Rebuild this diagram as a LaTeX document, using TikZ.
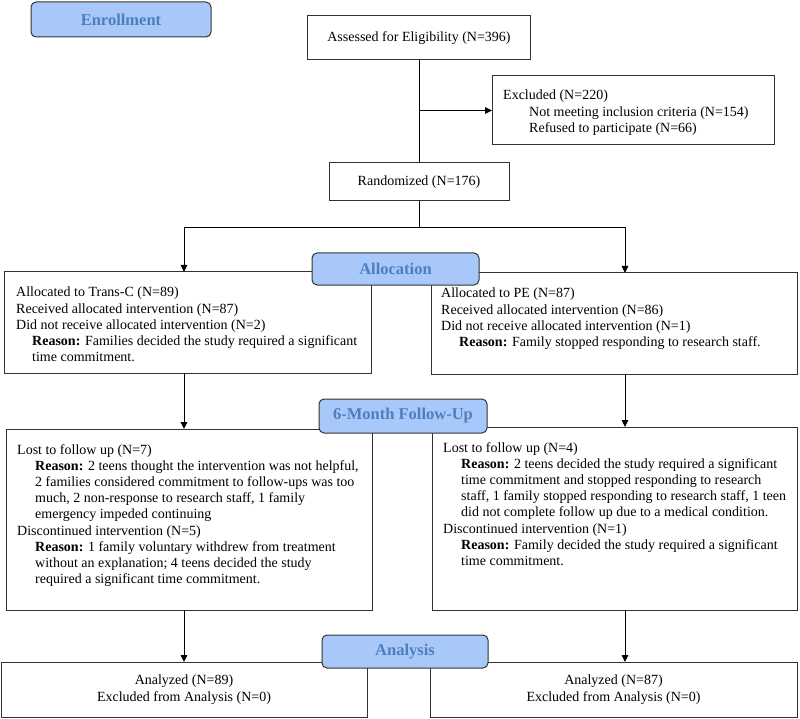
\documentclass[tikz,border=0pt]{standalone}
\usepackage{fontspec}
\setmainfont{Liberation Serif}
\usetikzlibrary{arrows.meta,calc}
\definecolor{linec}{RGB}{50,50,50}
\definecolor{hdrfill}{RGB}{168,200,250}
\definecolor{hdrtext}{RGB}{79,126,190}
\newcommand{\myind}{\hspace*{18pt}}
\tikzset{
  box/.style={draw=linec,line width=1pt,fill=white,anchor=north west,inner sep=0pt,outer sep=0pt},
  hdr/.style={draw=linec,line width=1pt,fill=hdrfill,rounded corners=5pt,anchor=north west,inner sep=0pt,outer sep=0pt,text=hdrtext,font=\fontsize{16.5}{18}\selectfont\bfseries},
  txt/.style={anchor=north west,inner sep=0pt,align=left,font=\fontsize{14}{16.2}\selectfont},
  ctxt/.style={align=center,font=\fontsize{14}{17}\selectfont},
  conn/.style={draw=black,line width=0.9pt},
  arr/.style={conn,-{Triangle[length=7pt,width=6.5pt]}}
}
\begin{document}
\begin{tikzpicture}[x=1pt,y=-1pt]
\useasboundingbox (0,0) rectangle (800,719);
% boxes
\node[box,ctxt,minimum width=223pt,minimum height=44pt] (assess) at (307.5,16) {Assessed for Eligibility (N=396)};
\node[box,minimum width=282pt,minimum height=69pt] (excl) at (492,76) {};
\node[box,ctxt,minimum width=180pt,minimum height=38pt] (rand) at (329,163) {Randomized (N=176)};
\node[box,minimum width=367pt,minimum height=101pt] (allocL) at (4,272) {};
\node[box,minimum width=366pt,minimum height=101pt] (allocR) at (431,273) {};
\node[box,minimum width=366pt,minimum height=181pt] (fuL) at (6,429) {};
\node[box,minimum width=365pt,minimum height=183pt] (fuR) at (432,427) {};
\node[box,ctxt,minimum width=366pt,minimum height=55pt] (anaL) at (1,662) {Analyzed (N=89)\\Excluded from Analysis (N=0)};
\node[box,ctxt,minimum width=367pt,minimum height=55pt] (anaR) at (430,662) {Analyzed (N=87)\\Excluded from Analysis (N=0)};
% texts
\node[txt] (exclt) at (503,90) {Excluded (N=220)\\\hspace*{26pt}Not meeting inclusion criteria (N=154)\\\hspace*{26pt}Refused to participate (N=66)};
\node[txt] (allocLt) at (16,287) {Allocated to Trans-C (N=89)\\
Received allocated intervention (N=87)\\
Did not receive allocated intervention (N=2)\\
\hspace*{16pt}\textbf{Reason:} Families decided the study required a significant\\
\hspace*{16pt}time commitment.};
\node[txt] (allocRt) at (441,288) {Allocated to PE (N=87)\\
Received allocated intervention (N=86)\\
Did not receive allocated intervention (N=1)\\
\myind\textbf{Reason:} Family stopped responding to research staff.};
\node[txt] (fuLt) at (17,444) {Lost to follow up (N=7)\\
\myind\textbf{Reason:} 2 teens thought the intervention was not helpful,\\
\myind 2 families considered commitment to follow-ups was too\\
\myind much, 2 non-response to research staff, 1 family\\
\myind emergency impeded continuing\\
Discontinued intervention (N=5)\\
\myind\textbf{Reason:} 1 family voluntary withdrew from treatment\\
\myind without an explanation; 4 teens decided the study\\
\myind required a significant time commitment.};
\node[txt] (fuRt) at (443,442) {Lost to follow up (N=4)\\
\myind\textbf{Reason:} 2 teens decided the study required a significant\\
\myind time commitment and stopped responding to research\\
\myind staff, 1 family stopped responding to research staff, 1 teen\\
\myind did not complete follow up due to a medical condition.\\
Discontinued intervention (N=1)\\
\myind\textbf{Reason:} Family decided the study required a significant\\
\myind time commitment.};
% connectors
\coordinate (split) at (419,227);
\coordinate (colL) at (184,0);
\coordinate (colR) at (625,0);
\draw[conn] (assess.south) -- (rand.north);
\draw[arr] (assess.south |- excl.west) -- (excl.west);
\draw[conn] (rand.south) -- (split);
\draw[arr] (split) -| (allocL.north -| colL);
\draw[arr] (split) -| (allocR.north -| colR);
\draw[arr] (allocL.south -| colL) -- (fuL.north -| colL);
\draw[arr] (allocR.south -| colR) -- (fuR.north -| colR);
\draw[arr] (fuL.south -| colL) -- (anaL.north -| colL);
\draw[arr] (fuR.south -| colR) -- (anaR.north -| colR);
% headers
\node[hdr,minimum width=180pt,minimum height=35pt] (enroll) at (31,2) {Enrollment};
\node[hdr,minimum width=167pt,minimum height=32pt] (alloc) at (312,253) {Allocation};
\node[hdr,minimum width=168pt,minimum height=34pt] (fu) at (319,399) {6-Month Follow-Up};
\node[hdr,minimum width=166pt,minimum height=33pt] (ana) at (322,635) {Analysis};
\end{tikzpicture}
\end{document}
